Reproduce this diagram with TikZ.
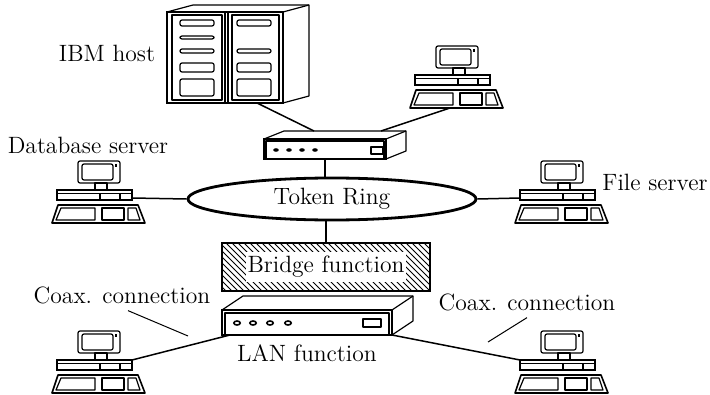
\documentclass[tikz,border=0pt]{standalone}
\usepackage{tikz}
\usetikzlibrary{calc,shapes.geometric,patterns}

\tikzset{
  wire/.style={line width=0.75pt},
  leader/.style={line width=0.5pt},
  outline/.style={line width=0.6pt, line join=round},
  boxfront/.style={draw, line width=0.8pt, outer sep=0pt, inner sep=0pt},
  % workstation: origin at the top left corner of the system unit
  pics/pc/.style={code={
    % monitor
    \draw[outline, rounded corners=1pt] (21,-29) rectangle (63,-7);
    \draw[outline, rounded corners=1pt] (25,-26) rectangle (56,-10);
    \draw[outline] (59,-26) -- (59,-23);
    % neck
    \draw[outline] (38,-7) rectangle (50,0);
    % system unit
    \draw[line width=0.8pt] (0,0) rectangle (75,10);
    \draw[outline] (0,3.5) -- (75,3.5);
    \draw[outline] (43,3.5) -- (43,10) (63,3.5) -- (63,10);
    % keyboard
    \draw[line width=0.8pt, line join=round] (1,15) -- (81,15) -- (88,33) -- (-5,33) -- cycle;
    \draw[outline] (4,18) -- (38,18) -- (38,30) -- (-1,30) -- cycle;
    \draw[outline] (45,18) rectangle (67,30);
    \draw[outline] (71,18) -- (79,18) -- (83,30) -- (71,30) -- cycle;
    % ports
    \coordinate (-nw) at (0,0);
    \coordinate (-ne) at (75,0);
    \coordinate (-e) at (75,8);
    \coordinate (-w) at (0,8);
    \coordinate (-s) at (35,33);
  }},
}

\begin{document}
\begin{tikzpicture}[x=0.5pt,y=-0.5pt,font=\fontsize{11.8}{14}\selectfont]
    \useasboundingbox (0,0) rectangle (710,395);

    % =========================
    % IBM host cabinet
    % =========================
    \node[boxfront, minimum width=58pt, minimum height=45.5pt] (host) at (225,57.5) {};
    \draw[outline] (host.north west) -- ++(26,-7) -- ++(116,0) -- ++(0,91) -- (host.south east);
    \draw[outline] (host.north east) -- ++(26,-7);
    % doors
    \draw[outline] (225,12) -- (225,103) (228,12) -- (228,103);
    \draw[outline] (172,15) rectangle (222,100);
    \draw[outline] (232,15) rectangle (279,100);
    % drive slots
    \foreach \ya/\yb in {20/26, 36/39, 49/53, 63/72, 79/96}
        \draw[outline, rounded corners=1pt] (180,\ya) rectangle (214,\yb);
    \foreach \ya/\yb in {20/26, 49/53, 63/72, 79/96}
        \draw[outline, rounded corners=1pt] (237,\ya) rectangle (271,\yb);
    \node (hostlabel) at (107,53) {IBM host};

    % =========================
    % ring attachment unit
    % =========================
    \node[boxfront, minimum width=61pt, minimum height=10pt] (mau) at (325,149) {};
    \draw[outline] (mau.north west) -- ++(20,-8) -- ++(122,0) -- ++(0,20) -- (mau.south east);
    \draw[outline] (mau.north east) -- ++(20,-8);
    \draw[outline] ([shift={(2,0)}]mau.south west) -- ([shift={(2,2)}]mau.north west)
        -- ([shift={(-2,2)}]mau.north east) -- ([shift={(-2,0)}]mau.south east);
    \foreach \dx in {12,25,38,51}
        \fill ([shift={(\dx,11)}]mau.north west) ellipse (1.4pt and 0.9pt);
    \draw[outline] ([shift={(107,8)}]mau.north west) rectangle ([shift={(119,15)}]mau.north west);
    \coordinate (mau-host) at ([shift={(50,-8)}]mau.north west);
    \coordinate (mau-ws) at ([shift={(117,-8)}]mau.north west);

    % =========================
    % Token Ring
    % =========================
    \node[ellipse, draw, line width=1.4pt, minimum width=144pt, minimum height=21pt, inner sep=0pt] (ring) at (332,199) {Token Ring};

    % =========================
    % bridge and LAN unit
    % =========================
    \node[draw, line width=1pt, pattern=north west lines, minimum width=104pt, minimum height=24pt, outer sep=0pt] (bridge) at (326,267) {};
    \node[fill=white, inner xsep=1pt, inner ysep=2pt] (bridgetext) at (bridge.center) {Bridge function};

    \node[boxfront, line width=1pt, minimum width=85pt, minimum height=12.5pt] (lan) at (307,322.5) {};
    \draw[outline] (lan.north west) -- ++(21,-14) -- ++(170,0) -- ++(0,25) -- (lan.south east);
    \draw[outline] (lan.north east) -- ++(21,-14);
    \draw[outline] ([shift={(3,0)}]lan.south west) -- ([shift={(3,3)}]lan.north west)
        -- ([shift={(-3,3)}]lan.north east) -- ([shift={(-3,0)}]lan.south east);
    \foreach \dx in {15,31,48,66}
        \draw[line width=0.8pt] ([shift={(\dx,13)}]lan.north west) ellipse (1.6pt and 1pt);
    \draw[outline] ([shift={(141,9)}]lan.north west) rectangle ([shift={(159,17)}]lan.north west);
    \node (lanlabel) at (307,353) {LAN function};

    % =========================
    % workstations
    % =========================
    \pic (wspc) at (415,75) {pc};
    \pic (dbpc) at (57,190) {pc};
    \pic (fspc) at (520,190) {pc};
    \pic (lpc) at (57,360) {pc};
    \pic (rpc) at (520,360) {pc};

    \node (dblabel) at (88,145) {Database server};
    \node (fslabel) at (655,182) {File server};

    % =========================
    % cabling
    % =========================
    \draw[wire] ([xshift=16pt]host.south) -- (mau-host);
    \draw[wire] (wspc-s) -- (mau-ws);
    \draw[wire] (mau.south) -- (mau.south |- ring.north);
    \draw[wire] (dbpc-e) -- (ring.west);
    \draw[wire] (ring.east) -- (fspc-w);
    \draw[wire] (bridge.north |- ring.south) -- (bridge.north);
    \draw[wire] ([xshift=4pt]lan.south west) -- (lpc-ne);
    \draw[wire] (lan.south east) -- (rpc-nw);

    % coax labels
    \node (coaxl) at (122,295) {Coax. connection};
    \node (coaxr) at (527,302) {Coax. connection};
    \coordinate (coaxl-tip) at (188,336);
    \coordinate (coaxr-tip) at (488,342);
    \draw[leader] ([xshift=3pt]coaxl.south) -- (coaxl-tip);
    \draw[leader] (coaxr.south) -- (coaxr-tip);

\end{tikzpicture}
\end{document}
